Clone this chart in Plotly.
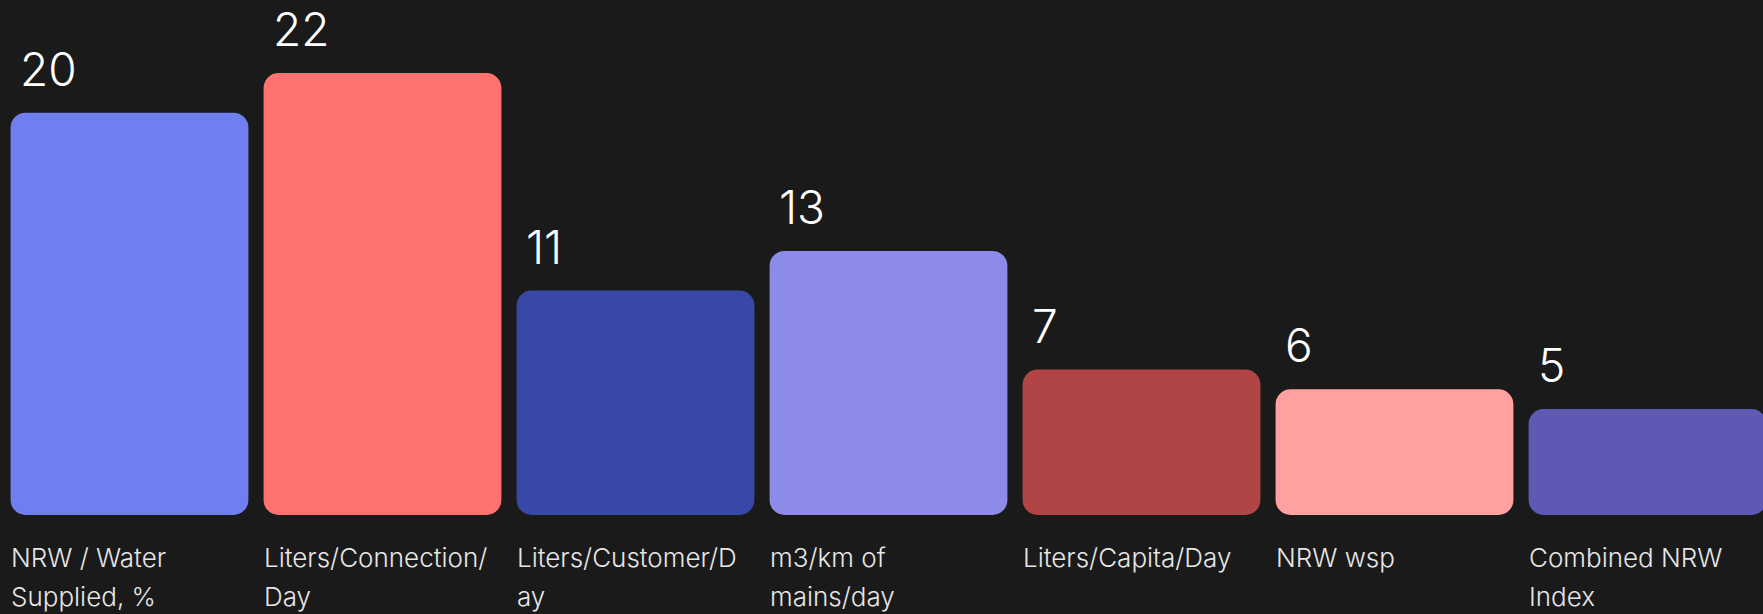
import plotly.graph_objects as go

categories = ["NRW / Water Supplied, %", "Liters/Connection/Day", "Liters/Customer/Day",
              "m3/km of mains/day", "Liters/Capita/Day", "NRW wsp", "Combined NRW Index"]
label_lines = [["NRW / Water", "Supplied, %"], ["Liters/Connection/", "Day"],
               ["Liters/Customer/D", "ay"], ["m3/km of", "mains/day"],
               ["Liters/Capita/Day"], ["NRW wsp"], ["Combined NRW", "Index"]]
values = [20, 22, 11, 13, 7, 6, 5]
colors = ["#6F7FF0", "#FF726F", "#3948A6", "#8C8CE8", "#B14545", "#FFA1A0", "#5F59B3"]

BASE = -0.36
FONT = "Inter, Roboto, sans-serif"
xs = list(range(len(categories)))

fig = go.Figure(go.Bar(
    x=xs, y=[v - BASE for v in values], base=BASE,
    marker=dict(color=colors, cornerradius=15, line=dict(width=0)),
    width=0.94, hoverinfo="skip",
))

annotations = []
for i, (v, lines) in enumerate(zip(values, label_lines)):
    annotations.append(dict(x=i - 0.47, y=v, xref="x", yref="y", text=str(v),
                            showarrow=False, xanchor="left", yanchor="bottom",
                            xshift=7, yshift=14,
                            font=dict(family=FONT, size=46, color="#FFFFFF", weight=300)))
    for k, line in enumerate(lines):
        annotations.append(dict(x=i - 0.47, y=BASE, xref="x", yref="y", text=line,
                                showarrow=False, xanchor="left", yanchor="top", align="left",
                                xshift=-2, yshift=-25 - 39 * k,
                                font=dict(family=FONT, size=26, color="#E6E6E6", weight=300)))

fig.update_layout(
    width=1763, height=614,
    margin=dict(l=3, r=0, t=0, b=99),
    paper_bgcolor="#1A1A1A", plot_bgcolor="#1A1A1A",
    showlegend=False,
    xaxis=dict(range=[-0.5, 6.4565], visible=False, fixedrange=True),
    yaxis=dict(range=[BASE, 25.70], visible=False, fixedrange=True),
    annotations=annotations,
)

fig.write_html("out.html", config={"displayModeBar": False},
               post_script="document.body.style.margin='0px';document.body.style.background='#1A1A1A';document.body.style.overflow='hidden';")
